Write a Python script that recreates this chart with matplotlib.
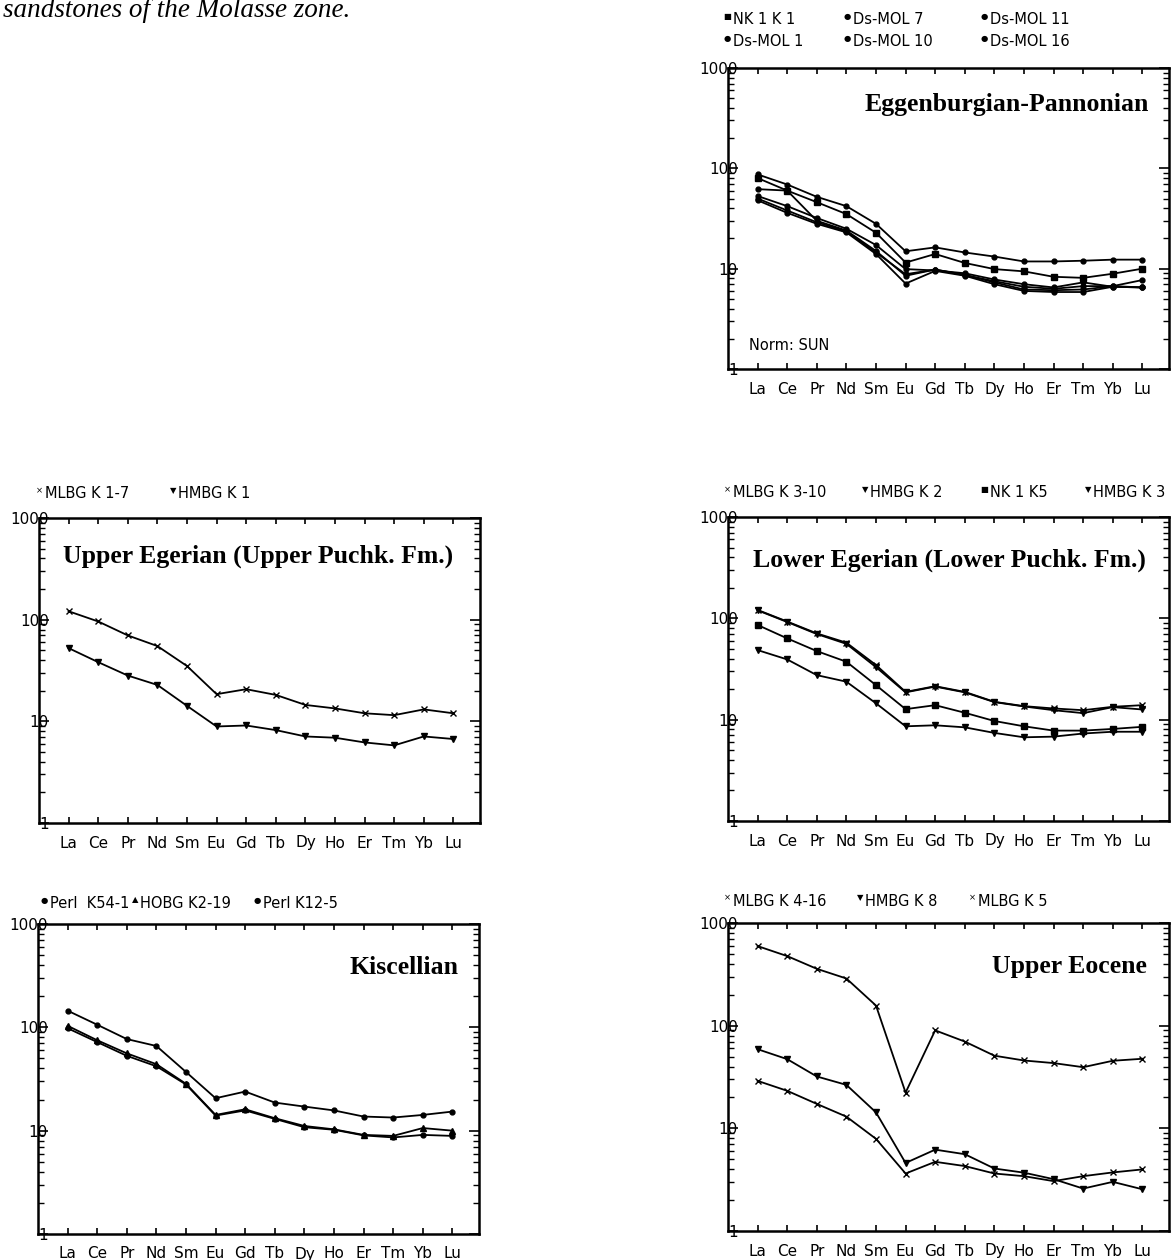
import matplotlib
matplotlib.use('Agg')
import matplotlib.pyplot as plt
from matplotlib.ticker import LogLocator, NullFormatter, FixedLocator, FixedFormatter

plt.rcParams['font.family'] = ['DejaVu Sans']

elements = ["La", "Ce", "Pr", "Nd", "Sm", "Eu", "Gd", "Tb", "Dy", "Ho", "Er", "Tm", "Yb", "Lu"]

# Eggenburgian-Pannonian
egg_nk1k1 = [80, 60, 46, 35, 22.8, 11.5, 14, 11.4, 9.9, 9.4, 8.3, 8.1, 8.9, 10.0]
egg_dsmol7 = [87, 69, 52, 42, 28, 14.9, 16.3, 14.5, 13.2, 11.8, 11.8, 12.0, 12.3, 12.3]
egg_dsmol11 = [62, 60, 30, 24, 15, 8.5, 9.8, 8.6, 7.5, 6.6, 6.3, 6.7, 6.7, 7.7]
egg_dsmol1 = [53, 42, 32, 25, 17.2, 9.9, 9.6, 9.0, 7.8, 7.0, 6.5, 7.3, 6.6, 6.5]
egg_dsmol10 = [48, 36, 28, 23, 14, 7.1, 9.5, 8.5, 7.0, 6.0, 5.85, 5.85, 6.6, 6.5]
egg_dsmol16 = [50, 38, 29, 23.5, 14.5, 8.8, 9.8, 8.7, 7.3, 6.2, 6.1, 6.2, 6.7, 6.5]

# Upper Egerian (Upper Puchk. Fm.)
ue_mlbg_k1_7 = [121, 96, 70, 55, 35, 18.5, 20.7, 18.2, 14.5, 13.4, 12.0, 11.5, 13.1, 12.0]
ue_hmbg_k1 = [52.5, 38.2, 28.2, 22.8, 14.2, 8.9, 9.1, 8.2, 7.1, 6.9, 6.2, 5.8, 7.1, 6.7]

# Lower Egerian (Lower Puchk. Fm.)
le_mlbg_k3_10 = [121, 93, 71, 57.5, 34.6, 18.8, 21.4, 18.8, 15.0, 13.6, 12.9, 12.4, 13.4, 13.9]
le_hmbg_k2 = [48.6, 39.3, 27.5, 23.7, 14.5, 8.6, 8.8, 8.4, 7.4, 6.7, 6.8, 7.3, 7.6, 7.6]
le_nk1k5 = [86, 63.4, 47.5, 37.3, 21.9, 12.7, 13.9, 11.7, 9.7, 8.6, 7.8, 7.8, 8.1, 8.5]
le_hmbg_k3 = [120, 92, 70, 56, 33, 18.6, 21.2, 18.6, 14.9, 13.5, 12.4, 11.6, 13.3, 12.6]

# Kiscellian
ki_perl_k54_1 = [145, 106, 77, 66, 37, 20.6, 23.9, 18.7, 17.1, 15.7, 13.7, 13.4, 14.2, 15.3]
ki_hobg_k2_19 = [103.5, 75, 56, 44, 28.4, 14.2, 16.1, 13.2, 11.1, 10.3, 9.1, 8.9, 10.6, 10.0]
ki_perl_k12_5 = [98, 72, 53, 42, 28.0, 14.0, 15.7, 13.0, 10.8, 10.2, 9.0, 8.6, 9.1, 8.9]

# Upper Eocene
eo_mlbg_k4_16 = [596, 476, 358, 288, 157, 22.3, 90, 70, 51, 45.8, 43.2, 39.4, 45.5, 47.6]
eo_hmbg_k8 = [59, 47.2, 32, 26.5, 14.3, 4.6, 6.2, 5.6, 4.06, 3.7, 3.2, 2.59, 3.01, 2.55]
eo_mlbg_k5 = [29, 23.2, 17.3, 13.0, 7.9, 3.63, 4.72, 4.29, 3.63, 3.42, 3.06, 3.42, 3.72, 3.98]

W, H = 1171, 1260
fig = plt.figure(figsize=(W / 100, H / 100), dpi=100)


def add_axes(x0, x1, ytop, ybot):
    return fig.add_axes([x0 / W, 1 - ybot / H, (x1 - x0) / W, (ybot - ytop) / H])


def setup(ax):
    ax.set_yscale('log')
    ax.set_ylim(1, 1000)
    ax.set_xlim(-1, 13.9)
    ax.set_xticks(range(len(elements)))
    ax.set_xticklabels(elements)
    ax.tick_params(axis='x', which='both', direction='in', top=True, bottom=True,
                   length=4, width=1.2, pad=9, labelsize=11)
    ax.yaxis.set_major_locator(FixedLocator([1, 10, 100, 1000]))
    ax.yaxis.set_major_formatter(FixedFormatter(['1', '10', '100', '1000']))
    ax.yaxis.set_minor_locator(LogLocator(base=10, subs=range(2, 10)))
    ax.yaxis.set_minor_formatter(NullFormatter())
    ax.tick_params(axis='y', which='major', direction='in', left=True, right=True,
                   length=7, width=1.2, pad=-7, labelsize=11)
    ax.tick_params(axis='y', which='minor', direction='in', left=True, right=True,
                   length=4, width=1.0)
    for s in ax.spines.values():
        s.set_linewidth(1.8)


def series(ax, vals, marker, ms=3.5):
    ax.plot(range(len(elements)), vals, color='black', lw=1.3, marker=marker,
            ms=ms, mfc='black', mec='black', mew=1.0)


def title(ax, text, x, y, ha):
    fig.text(x / W, 1 - y / H, text, family='Liberation Serif', weight='bold',
             fontsize=18.5, ha=ha, va='center')


def legend_item(xtext, y, mchar, label):
    fig.text((xtext - 2) / W, 1 - (y - 3) / H, mchar, fontsize=6, ha='right', va='center')
    fig.text(xtext / W, 1 - y / H, label, fontsize=10.5, ha='left', va='center')


# header text
fig.text(3 / W, 1 - 17 / H, "sandstones of the Molasse zone.", family='Liberation Serif',
         style='italic', fontsize=19.5, ha='left', va='baseline')

# Top right: Eggenburgian-Pannonian
ax1 = add_axes(728, 1169, 68, 369)
setup(ax1)
series(ax1, egg_dsmol7, 'o')
series(ax1, egg_nk1k1, 's', 4)
series(ax1, egg_dsmol11, 'o')
series(ax1, egg_dsmol1, 'o')
series(ax1, egg_dsmol10, 'o')
series(ax1, egg_dsmol16, 'o')
title(ax1, "Eggenburgian-Pannonian", 1149, 105, 'right')
fig.text(749 / W, 1 - 345 / H, "Norm: SUN", fontsize=10.5, ha='left', va='center')
legend_item(733, 20, "■", "NK 1 K 1")
legend_item(853, 20, "●", "Ds-MOL 7")
legend_item(990, 20, "●", "Ds-MOL 11")
legend_item(733, 42, "●", "Ds-MOL 1")
legend_item(853, 42, "●", "Ds-MOL 10")
legend_item(990, 42, "●", "Ds-MOL 16")

# Middle left: Upper Egerian
ax2 = add_axes(39, 480, 518, 823)
setup(ax2)
series(ax2, ue_mlbg_k1_7, 'x', 4)
series(ax2, ue_hmbg_k1, 'v', 4)
title(ax2, "Upper Egerian (Upper Puchk. Fm.)", 258, 556, 'center')
legend_item(45, 494, "×", "MLBG K 1-7")
legend_item(178, 494, "▼", "HMBG K 1")

# Middle right: Lower Egerian
ax3 = add_axes(728, 1169, 517, 821)
setup(ax3)
series(ax3, le_mlbg_k3_10, 'x', 4)
series(ax3, le_hmbg_k3, 'v', 4)
series(ax3, le_nk1k5, 's', 4)
series(ax3, le_hmbg_k2, 'v', 4)
title(ax3, "Lower Egerian (Lower Puchk. Fm.)", 949, 560, 'center')
legend_item(733, 493, "×", "MLBG K 3-10")
legend_item(870, 493, "▼", "HMBG K 2")
legend_item(990, 493, "■", "NK 1 K5")
legend_item(1093, 493, "▼", "HMBG K 3")

# Bottom left: Kiscellian
ax4 = add_axes(38, 479, 924, 1234)
setup(ax4)
series(ax4, ki_perl_k54_1, 'o')
series(ax4, ki_hobg_k2_19, '^', 4)
series(ax4, ki_perl_k12_5, 'o')
title(ax4, "Kiscellian", 458, 968, 'right')
legend_item(50, 903, "●", "Perl  K54-1")
legend_item(140, 903, "▲", "HOBG K2-19")
legend_item(263, 903, "●", "Perl K12-5")

# Bottom right: Upper Eocene
ax5 = add_axes(728, 1169, 923, 1231)
setup(ax5)
series(ax5, eo_mlbg_k4_16, 'x', 4)
series(ax5, eo_hmbg_k8, 'v', 4)
series(ax5, eo_mlbg_k5, 'x', 4)
title(ax5, "Upper Eocene", 1147, 967, 'right')
legend_item(733, 901, "×", "MLBG K 4-16")
legend_item(865, 901, "▼", "HMBG K 8")
legend_item(978, 901, "×", "MLBG K 5")

fig.savefig('out.png', dpi=100, facecolor='white')
